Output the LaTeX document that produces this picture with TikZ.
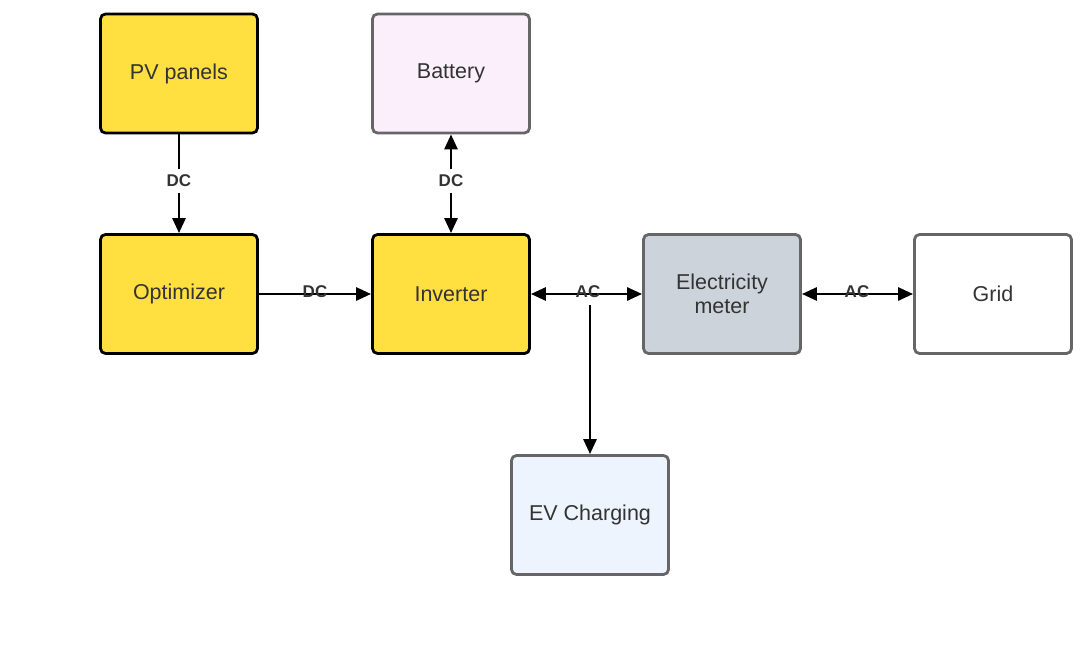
\documentclass[tikz,border=0pt]{standalone}
\usepackage{fontspec}
\setmainfont{Liberation Sans}
\usetikzlibrary{arrows.meta}
\definecolor{yel}{HTML}{FFE040}
\definecolor{pinkb}{HTML}{FCEFFC}
\definecolor{grayb}{HTML}{CDD3DB}
\definecolor{blueb}{HTML}{EDF4FD}
\definecolor{bord}{HTML}{666666}
\definecolor{txt}{HTML}{333333}
\begin{document}
\begin{tikzpicture}[x=1pt,y=-1pt,
  box/.style={rectangle,rounded corners=5pt,minimum width=157pt,minimum height=119pt,line width=2.8pt,
    font=\fontsize{21.5}{25}\selectfont,text=txt,align=center,inner sep=0pt},
  ybox/.style={box,fill=yel,draw=black},
  gbox/.style={box,draw=bord},
  labn/.style={font=\bfseries\fontsize{17}{19}\selectfont,text=txt,inner sep=1pt},
  conn/.style={line width=2.8pt,-{Triangle[length=15pt,width=13pt]}},
  bconn/.style={line width=2.8pt,{Triangle[length=15pt,width=13pt]}-{Triangle[length=15pt,width=13pt]}},
  seg/.style={line width=2.8pt}]
\useasboundingbox (0,0) rectangle (1082,671);
\node[ybox] (pv) at (179,73.5) {PV panels};
\node[gbox,fill=pinkb] (bat) at (451,73.5) {Battery};
\node[ybox] (opt) at (179,294) {Optimizer};
\node[ybox] (inv) at (451,294) {Inverter};
\node[gbox,fill=grayb] (met) at (722,294) {Electricity\\[-1pt]meter};
\node[gbox,fill=white] (grid) at (993,294) {Grid};
\node[gbox,fill=blueb] (ev) at (590,515) {EV Charging};
% labels
\coordinate (l1) at (179,181);
\coordinate (l2) at (451,181);
\coordinate (l3) at (315,292);
\coordinate (l4) at (588,292);
\coordinate (l5) at (857,292);
\draw[seg] (pv.south) -- (179,169);
\draw[conn] (179,193) -- (opt.north);
\node[labn] (d1) at (l1) {DC};
\draw[conn] (451,169) -- (bat.south);
\draw[conn] (451,193) -- (inv.north);
\node[labn] (d2) at (l2) {DC};
\draw[conn] (opt.east) -- (inv.west);
\node[labn] (d3) at (l3) {DC};
\draw[bconn] (inv.east) -- (met.west);
\node[labn] (a1) at (l4) {AC};
\draw[conn] (590,305) -- (ev.north);
\draw[bconn] (met.east) -- (grid.west);
\node[labn] (a2) at (l5) {AC};
\end{tikzpicture}
\end{document}
